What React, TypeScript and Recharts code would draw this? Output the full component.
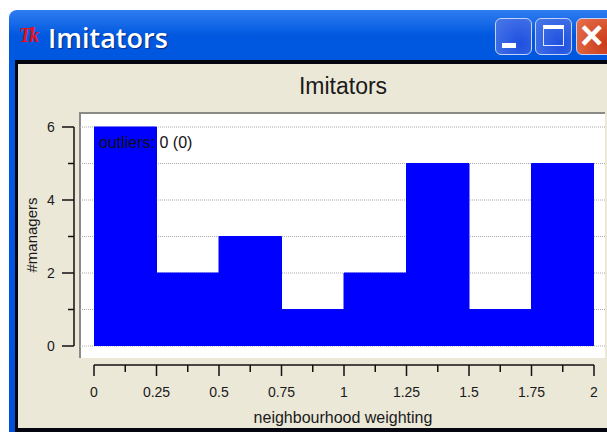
import { ComposedChart, Area, XAxis, YAxis, CartesianGrid } from "recharts";

const binEdges = [0, 0.25, 0.5, 0.75, 1, 1.25, 1.5, 1.75, 2];
// last entry repeats so the final step reaches x = 2
const managerCounts = [6, 2, 3, 1, 2, 5, 1, 5, 5];
const yTicks = [0, 1, 2, 3, 4, 5, 6];
const xMinorTicks = [0.125, 0.375, 0.625, 0.875, 1.125, 1.375, 1.625, 1.875];
const xTicks = [...binEdges, ...xMinorTicks].sort((a, b) => a - b);

const chartData = binEdges.map((edge, i) => ({ edge, count: managerCounts[i] }));

const FONT = "'Liberation Sans', Arial, sans-serif";
const INK = "#1a1a1a";

function YTick({ x, y, payload }: any) {
  const major = payload.value % 2 === 0;
  return (
    <g>
      <line x1={x - (major ? 12 : 6)} x2={x} y1={y} y2={y} stroke="#111" strokeWidth={1.5} />
      {major && (
        <text x={x - 23} y={y + 5} textAnchor="middle" fontSize={14} fontFamily={FONT} fill={INK}>
          {payload.value}
        </text>
      )}
    </g>
  );
}

function XTick({ x, y, payload }: any) {
  const major = binEdges.includes(payload.value);
  return (
    <g>
      <line x1={x} x2={x} y1={y} y2={y + (major ? 11 : 7)} stroke="#111" strokeWidth={1.5} />
      {major && (
        <text x={x} y={y + 32} textAnchor="middle" fontSize={14} fontFamily={FONT} fill={INK}>
          {payload.value}
        </text>
      )}
    </g>
  );
}

function GridLine(props: any) {
  return (
    <line
      x1={props.x1 + 6}
      x2={props.x2}
      y1={props.y1}
      y2={props.y2}
      stroke="#aaa"
      strokeDasharray="1 1"
    />
  );
}

function WindowButton({ left, width, bg, children }: any) {
  return (
    <div
      style={{
        position: "absolute",
        left,
        top: 18,
        width,
        height: 37,
        boxSizing: "border-box",
        border: "1.5px solid #c4d3f5",
        borderRadius: 6,
        background: bg,
      }}
    >
      {children}
    </div>
  );
}

export default function App() {
  return (
    <div style={{ position: "fixed", left: 0, top: 0, width: 607, height: 432, overflow: "hidden", background: "#fff" }}>
      {/* window frame */}
      <div
        style={{
          position: "absolute",
          left: 9,
          top: 10,
          width: 620,
          height: 430,
          borderRadius: "8px 8px 0 0",
          background: "linear-gradient(180deg, #2f7cf0 0%, #0058e0 6%, #0056e4 60%, #0050d8 100%)",
        }}
      />
      <div style={{ position: "absolute", left: 15, top: 60, width: 600, height: 372, background: "#05050f" }} />
      <div style={{ position: "absolute", left: 18, top: 64, width: 600, height: 364, background: "#ebe8d8" }} />

      {/* title bar */}
      <div
        style={{
          position: "absolute",
          left: 19,
          top: 24,
          fontFamily: "'Liberation Serif', serif",
          fontStyle: "italic",
          fontWeight: 700,
          fontSize: 20,
          letterSpacing: -2,
          color: "#e8101a",
        }}
      >
        Tk
      </div>
      <div
        style={{
          position: "absolute",
          left: 48,
          top: 19,
          fontFamily: "'Open Sans', sans-serif",
          fontWeight: 600,
          fontSize: 27,
          lineHeight: "37px",
          color: "#fff",
          textShadow: "1px 1px 1px #0a2a80",
        }}
      >
        Imitators
      </div>
      <WindowButton left={495} width={37} bg="radial-gradient(circle at 70% 70%, #1f50e0, #4a78e8)">
        <div style={{ position: "absolute", left: 6, top: 24, width: 14, height: 5, background: "#fff" }} />
      </WindowButton>
      <WindowButton left={535} width={37} bg="radial-gradient(circle at 70% 70%, #1f50e0, #4a78e8)">
        <div
          style={{
            position: "absolute",
            left: 7,
            top: 6,
            width: 21,
            height: 21,
            boxSizing: "border-box",
            border: "1.5px solid #dde6fb",
            borderTop: "4px solid #fff",
          }}
        />
      </WindowButton>
      <WindowButton left={576} width={44} bg="radial-gradient(circle at 70% 70%, #c83a1a, #e8704a)">
        <div
          style={{
            position: "absolute",
            left: 3,
            top: -6,
            fontFamily: FONT,
            fontWeight: 700,
            fontSize: 40,
            lineHeight: "44px",
            color: "#fff",
          }}
        >
          ×
        </div>
      </WindowButton>

      {/* chart title */}
      <div
        style={{
          position: "absolute",
          left: 18,
          width: 650,
          top: 72,
          textAlign: "center",
          fontFamily: FONT,
          fontSize: 23,
          lineHeight: "28px",
          color: INK,
        }}
      >
        Imitators
      </div>

      {/* plot background */}
      <div
        style={{
          position: "absolute",
          left: 79,
          top: 112,
          width: 526,
          height: 246,
          boxSizing: "border-box",
          background: "#fff",
          borderTop: "2px solid #8a8a86",
          borderLeft: "2px solid #8a8a86",
        }}
      />

      <div style={{ position: "absolute", left: 0, top: 0 }}>
        <ComposedChart
          width={607}
          height={358}
          data={chartData}
          margin={{ top: 127, right: 2, bottom: 12, left: 0 }}
        >
          <CartesianGrid vertical={false} horizontal={(p: any) => <GridLine key={p.index} {...p} />} />
          <XAxis
            type="number"
            dataKey="edge"
            domain={[0, 2]}
            ticks={binEdges}
            padding={{ left: 20, right: 11 }}
            hide
          />
          <YAxis
            width={74}
            domain={[0, 6]}
            ticks={yTicks}
            interval={0}
            tickLine={false}
            tickSize={0}
            tickMargin={0}
            axisLine={{ stroke: "#111", strokeWidth: 1.5 }}
            tick={<YTick />}
            label={{
              value: "#managers",
              angle: -90,
              position: "insideLeft",
              offset: 32,
              dy: 36,
              style: { fontFamily: FONT, fontSize: 15, fill: INK },
            }}
          />
          <Area
            type="stepAfter"
            dataKey="count"
            baseValue={0}
            stroke="#0000ff"
            fill="#0000ff"
            fillOpacity={1}
            isAnimationActive={false}
            dot={false}
          />
        </ComposedChart>
      </div>

      {/* detached x axis under the plot */}
      <div style={{ position: "absolute", left: 0, top: 355 }}>
        <ComposedChart
          width={607}
          height={76}
          data={chartData}
          margin={{ top: 0, right: 13, bottom: 0, left: 94 }}
        >
          <XAxis
            type="number"
            dataKey="edge"
            domain={[0, 2]}
            ticks={xTicks}
            interval={0}
            height={66}
            tickLine={false}
            tickSize={0}
            tickMargin={0}
            axisLine={{ stroke: "#111", strokeWidth: 1.5 }}
            tick={<XTick />}
            label={{
              value: "neighbourhood weighting",
              position: "insideBottom",
              offset: 8,
              dx: -1,
              style: { fontFamily: FONT, fontSize: 16, fill: INK },
            }}
          />
          <Area dataKey="count" stroke="none" fill="none" isAnimationActive={false} />
        </ComposedChart>
      </div>

      <div
        style={{
          position: "absolute",
          left: 99,
          top: 135,
          fontFamily: FONT,
          fontSize: 16,
          lineHeight: "16px",
          color: "#111",
        }}
      >
        outliers: 0 (0)
      </div>
    </div>
  );
}
